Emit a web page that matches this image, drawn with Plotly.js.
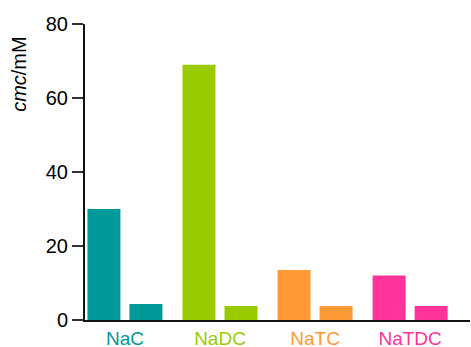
<!DOCTYPE html>
<html>
<head>
<meta charset="utf-8">
<script src="https://cdn.plot.ly/plotly-3.0.1.min.js"></script>
<style>html,body{margin:0;padding:0;background:#fff;}#chart{width:471px;height:347px;}</style>
</head>
<body>
<div id="chart"></div>
<script>
var categories = ["NaC", "NaDC", "NaTC", "NaTDC"];
var colors = ["#009999", "#99CC00", "#FF9933", "#FF3399"];
var seriesA = [30, 69, 13.5, 12];
var seriesB = [4.3, 3.8, 3.8, 3.8];
var yTicks = [0, 20, 40, 60, 80];

var tickText = categories.map(function (c, i) {
  return '<span style="color:' + colors[i] + '">' + c + '</span>';
});

var traces = [
  { type: "bar", x: categories, y: seriesA, marker: { color: colors }, hoverinfo: "none", showlegend: false },
  { type: "bar", x: categories, y: seriesB, marker: { color: colors }, hoverinfo: "none", showlegend: false }
];

var layout = {
  width: 471, height: 347,
  margin: { l: 85, r: 1, t: 24, b: 27, pad: 0 },
  paper_bgcolor: "#fff", plot_bgcolor: "#fff",
  font: { family: "Liberation Sans, Arial, sans-serif", size: 20, color: "#000" },
  barmode: "group", bargap: 0.116, bargroupgap: 0.215,
  showlegend: false,
  xaxis: {
    type: "category", range: [-0.42, 3.63],
    tickvals: categories, ticktext: tickText,
    showline: true, linecolor: "#111", linewidth: 2,
    ticks: "", showgrid: false, zeroline: false,
    tickfont: { size: 19 }, fixedrange: true
  },
  yaxis: {
    range: [0, 80], tickvals: yTicks,
    showline: true, linecolor: "#111", linewidth: 2,
    ticks: "outside", ticklen: 11, tickwidth: 2, tickcolor: "#333",
    showgrid: false, zeroline: false,
    tickfont: { size: 20 }, fixedrange: true
  },
  annotations: [{
    text: "<i>cmc</i>/mM", xref: "paper", yref: "paper",
    x: -0.17, y: 0.83, xanchor: "center", yanchor: "middle",
    textangle: -90, showarrow: false, font: { size: 20, color: "#000" }
  }]
};

Plotly.newPlot("chart", traces, layout, { displayModeBar: false, staticPlot: true });
</script>
</body>
</html>
